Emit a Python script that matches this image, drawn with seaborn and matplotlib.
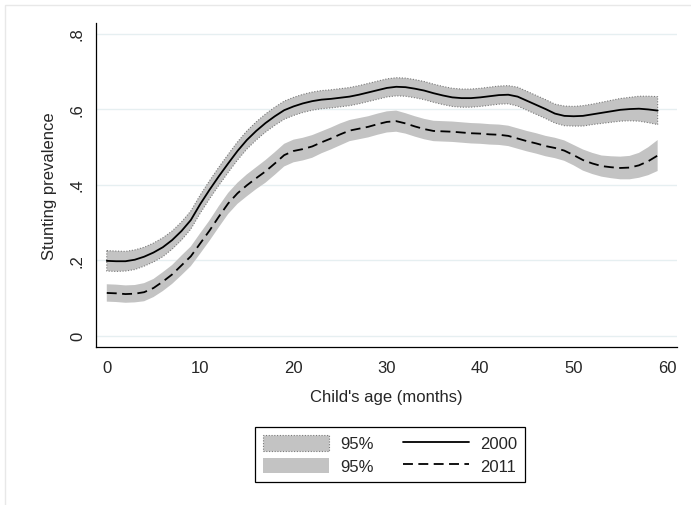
import matplotlib
matplotlib.use("Agg")
import matplotlib.pyplot as plt
import seaborn as sns
import numpy as np
import pandas as pd
from matplotlib.patches import Patch, Rectangle
from matplotlib.lines import Line2D
from matplotlib.ticker import MultipleLocator

# ---------------- data ----------------
age = list(range(60))

prev_2000 = [0.198, 0.197, 0.197, 0.201, 0.209, 0.220, 0.234, 0.253, 0.277, 0.306,
             0.348, 0.386, 0.422, 0.456, 0.489, 0.518, 0.542, 0.563, 0.581, 0.597,
             0.607, 0.615, 0.621, 0.625, 0.627, 0.630, 0.633, 0.638, 0.644, 0.650,
             0.656, 0.659, 0.658, 0.654, 0.649, 0.642, 0.636, 0.631, 0.629, 0.629,
             0.631, 0.634, 0.637, 0.638, 0.633, 0.622, 0.611, 0.600, 0.588, 0.582,
             0.581, 0.582, 0.586, 0.590, 0.594, 0.598, 0.600, 0.601, 0.599, 0.596]

ci_2000 = [0.027, 0.027, 0.026, 0.026, 0.025, 0.025, 0.025, 0.024, 0.024, 0.024,
           0.024, 0.024, 0.024, 0.024, 0.024, 0.024, 0.024, 0.024, 0.024, 0.024,
           0.024, 0.024, 0.024, 0.024, 0.024, 0.024, 0.024, 0.024, 0.024, 0.024,
           0.024, 0.024, 0.024, 0.024, 0.024, 0.024, 0.024, 0.024, 0.024, 0.024,
           0.024, 0.024, 0.024, 0.024, 0.025, 0.025, 0.025, 0.025, 0.025, 0.026,
           0.026, 0.027, 0.027, 0.028, 0.029, 0.030, 0.031, 0.033, 0.035, 0.037]

prev_2011 = [0.113, 0.112, 0.110, 0.111, 0.115, 0.126, 0.143, 0.162, 0.186, 0.210,
             0.244, 0.278, 0.315, 0.350, 0.377, 0.398, 0.417, 0.435, 0.456, 0.478,
             0.489, 0.494, 0.501, 0.512, 0.522, 0.533, 0.543, 0.548, 0.553, 0.560,
             0.566, 0.568, 0.562, 0.554, 0.547, 0.542, 0.541, 0.540, 0.538, 0.536,
             0.535, 0.533, 0.532, 0.529, 0.522, 0.515, 0.509, 0.502, 0.497, 0.490,
             0.478, 0.465, 0.456, 0.449, 0.446, 0.444, 0.445, 0.451, 0.462, 0.477]

ci_2011 = [0.023, 0.023, 0.023, 0.023, 0.024, 0.024, 0.025, 0.025, 0.026, 0.026,
           0.027, 0.027, 0.028, 0.028, 0.028, 0.029, 0.029, 0.030, 0.030, 0.030,
           0.030, 0.030, 0.030, 0.029, 0.029, 0.029, 0.028, 0.028, 0.028, 0.028,
           0.028, 0.028, 0.027, 0.027, 0.027, 0.027, 0.027, 0.027, 0.027, 0.027,
           0.027, 0.027, 0.027, 0.027, 0.027, 0.027, 0.027, 0.027, 0.027, 0.027,
           0.027, 0.028, 0.028, 0.028, 0.029, 0.030, 0.031, 0.033, 0.037, 0.041]

x_ticks = [0, 10, 20, 30, 40, 50, 60]
y_ticks = [0, 0.2, 0.4, 0.6, 0.8]
y_tick_labels = ["0", ".2", ".4", ".6", ".8"]
legend_labels = ["95%", "95%", "2000", "2011"]

# ---------------- style ----------------
sns.set_style("white")
plt.rcParams["font.family"] = ["Liberation Sans", "DejaVu Sans"]

FS = 12
BAND = "#c3c3c3"
EDGE = "#7a7a7a"
GRID = "#e6eff1"

fig = plt.figure(figsize=(6.91, 5.06), dpi=100)
ax = fig.add_axes([0.139, 0.312, 0.8407, 0.6406])

df = pd.DataFrame({
    "age": age,
    "p2000": prev_2000, "lo2000": np.array(prev_2000) - np.array(ci_2000),
    "hi2000": np.array(prev_2000) + np.array(ci_2000),
    "p2011": prev_2011, "lo2011": np.array(prev_2011) - np.array(ci_2011),
    "hi2011": np.array(prev_2011) + np.array(ci_2011),
})

ax.fill_between(df["age"], df["lo2000"], df["hi2000"], facecolor=BAND,
                edgecolor=EDGE, linestyle=(0, (1, 1.5)), linewidth=0.8, zorder=2)
ax.fill_between(df["age"], df["lo2011"], df["hi2011"], facecolor=BAND,
                edgecolor="none", linewidth=0, zorder=2)

sns.lineplot(data=df, x="age", y="p2000", ax=ax, color="black", lw=1.3,
             errorbar=None, zorder=3)
sns.lineplot(data=df, x="age", y="p2011", ax=ax, color="black", lw=1.3,
             errorbar=None, zorder=3)
ax.lines[-1].set_dashes([5.5, 3])

ax.set_xlim(-1.15, 61.07)
ax.set_ylim(-0.0305, 0.828)
ax.set_xticks(x_ticks)
ax.set_xticklabels([str(t) for t in x_ticks])
ax.xaxis.set_minor_locator(MultipleLocator(5))
ax.set_yticks(y_ticks)
ax.set_yticklabels(y_tick_labels, rotation=90, va="center")

ax.grid(axis="y", color=GRID, lw=1.0)
ax.grid(axis="x", visible=False)
ax.set_axisbelow(True)

for s in ["top", "right"]:
    ax.spines[s].set_visible(False)
for s in ["left", "bottom"]:
    ax.spines[s].set_color("black")
    ax.spines[s].set_linewidth(0.9)

ax.tick_params(axis="both", which="major", direction="out", length=5.5,
               width=0.9, color="black", labelsize=FS, pad=4)
ax.tick_params(axis="x", which="minor", direction="out", length=3,
               width=0.8, color="black")
ax.tick_params(axis="y", which="major", pad=2.5)

ax.set_xlabel("Child's age (months)", fontsize=FS, labelpad=10)
ax.set_ylabel("Stunting prevalence", fontsize=FS, labelpad=9)

handles = [
    Patch(facecolor=BAND, edgecolor=EDGE, linestyle=(0, (1, 1.5)), linewidth=0.8),
    Patch(facecolor=BAND, edgecolor="none"),
    Line2D([0], [0], color="black", lw=1.3),
    Line2D([0], [0], color="black", lw=1.3, dashes=[5.5, 3]),
]
leg = fig.legend(handles, legend_labels, ncol=2, loc="center",
                 bbox_to_anchor=(390 / 691, 1 - 455.5 / 506), fontsize=FS,
                 frameon=True, fancybox=False, shadow=False,
                 handlelength=3.96, handleheight=1.08, handletextpad=0.7,
                 columnspacing=1.72, labelspacing=0.36, borderpad=0.45,
                 borderaxespad=0)
leg.get_frame().set_edgecolor("black")
leg.get_frame().set_linewidth(0.9)
leg.get_frame().set_alpha(1)

fig.add_artist(Rectangle((5 / 691, -0.1), 1.2, (1 - 6 / 506) + 0.1,
                         transform=fig.transFigure, fill=False,
                         edgecolor="#e8e8e8", lw=1))

fig.savefig("out.png", dpi=100)
